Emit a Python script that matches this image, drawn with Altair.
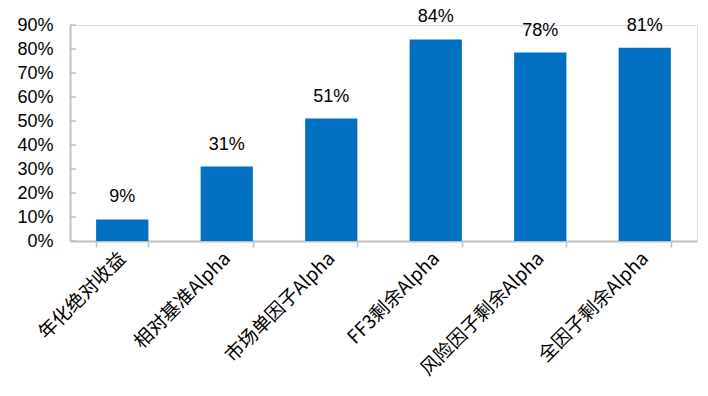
import altair as alt
import pandas as pd

categories = ["年化绝对收益", "相对基准Alpha", "市场单因子Alpha", "FF3剩余Alpha", "风险因子剩余Alpha", "全因子剩余Alpha"]
values = [0.09, 0.31, 0.51, 0.84, 0.785, 0.805]
labels = ["9%", "31%", "51%", "84%", "78%", "81%"]
y_ticks = [0, 0.1, 0.2, 0.3, 0.4, 0.5, 0.6, 0.7, 0.8, 0.9]

df = pd.DataFrame({"cat": categories, "val": values, "lab": labels})
ticks_df = pd.DataFrame({"t": y_ticks})

FONT = "Liberation Sans"
GRAY = "#c0c0c0"

x_scale = alt.Scale(paddingInner=0.5, paddingOuter=0.25)
x_axis = alt.Axis(labelAngle=-45, labelAlign="right", labelBaseline="middle",
                  labelFontSize=19, labelFont="Noto Sans CJK SC", labelColor="black",
                  labelPadding=8, tickBand="extent", tickSize=6, tickColor=GRAY,
                  domainColor=GRAY, domainWidth=2, tickWidth=1.5, labelOverlap=False)
y_scale = alt.Scale(domain=[0, 0.9], nice=False)
y_axis = alt.Axis(values=y_ticks, format=".0%", labelFontSize=18, labelFont=FONT,
                  labelColor="black", tickSize=0, labelPadding=17, labelOverlap=False,
                  labelBound=False, labelFlush=False,
                  domainColor=GRAY, domainWidth=2, grid=False)

bars = alt.Chart(df).mark_bar(color="#0070C0").encode(
    x=alt.X("cat:N", sort=categories, title=None, scale=x_scale, axis=x_axis),
    y=alt.Y("val:Q", title=None, scale=y_scale, axis=y_axis))
text = alt.Chart(df).mark_text(dy=-22, fontSize=18, font=FONT, color="black").encode(
    x=alt.X("cat:N", sort=categories, title=None, scale=x_scale, axis=x_axis),
    y=alt.Y("val:Q", title=None, scale=y_scale, axis=y_axis), text="lab:N")
ticks = alt.Chart(ticks_df).mark_rule(color=GRAY, strokeWidth=1.5).encode(
    y=alt.Y("t:Q", title=None, scale=y_scale, axis=y_axis), x=alt.value(0), x2=alt.value(6))

chart = alt.layer(bars, text, ticks).properties(
    width=627, height=216,
    autosize="none",
    padding={"left": 70, "top": 25, "right": 11, "bottom": 155},
).configure_view(strokeWidth=0).configure(background="white")

chart.save("out.html", embed_options={"renderer": "svg", "actions": False})
